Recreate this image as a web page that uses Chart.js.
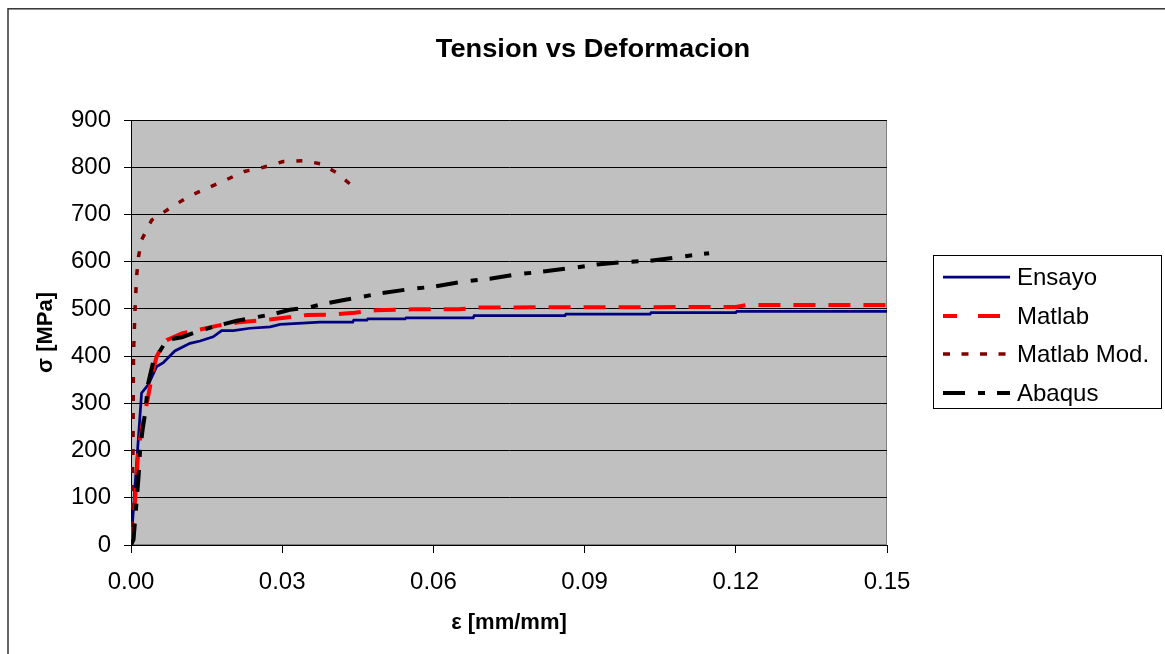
<!DOCTYPE html>
<html>
<head>
<meta charset="utf-8">
<title>Tension vs Deformacion</title>
<script src="https://cdn.jsdelivr.net/npm/chart.js@4/dist/chart.umd.min.js"></script>
<style>
  html, body { margin: 0; padding: 0; background: #fff; }
  #wrap { width: 1165px; height: 654px; position: relative; }
</style>
</head>
<body>
<div id="wrap"><canvas id="chart" width="1165" height="654"></canvas></div>
<script>
// Strain (mm/mm) / stress (MPa) pairs for each curve
const ensayoStrain = [0, 0.0007, 0.0021, 0.0034, 0.0051, 0.0064, 0.0087, 0.0117, 0.0137, 0.0163, 0.0180, 0.0203, 0.0236, 0.0276, 0.0296, 0.0375, 0.0440, 0.0442, 0.0468, 0.0470, 0.0544, 0.0546, 0.0679, 0.0681, 0.0861, 0.0863, 0.1030, 0.1032, 0.1200, 0.1202, 0.1500];
const ensayoStress = [0, 110, 322, 339, 378, 386, 411, 427, 432, 441, 454, 454, 459, 462, 467, 472, 472, 476, 476, 479, 479, 481, 481, 486, 486, 489, 489, 492, 492, 495, 495];

const matlabStrain = [0, 0.0005, 0.0015, 0.0028, 0.0034, 0.0044, 0.0051, 0.0061, 0.0071, 0.0101, 0.0140, 0.0170, 0.0210, 0.0279, 0.0349, 0.0400, 0.0444, 0.0487, 0.0557, 0.0650, 0.0690, 0.1200, 0.1220, 0.1500];
const matlabStress = [0, 46, 208, 282, 314, 371, 399, 420, 434, 448, 457, 464, 471, 478, 487, 488, 492, 497, 499, 499, 503, 504, 508, 508];

const matlabModStrain = [0, 0.0004, 0.0005, 0.0008, 0.0011, 0.0015, 0.0021, 0.0041, 0.0077, 0.0114, 0.0150, 0.0188, 0.0225, 0.0263, 0.0302, 0.0341, 0.0378, 0.0408, 0.0444];
const matlabModStress = [0, 200, 406, 498, 568, 611, 646, 688, 713, 738, 755, 773, 791, 800, 812, 814, 807, 788, 756];

const abaqusStrain = [0, 0.0005, 0.0015, 0.0018, 0.0023, 0.0028, 0.0034, 0.0044, 0.0071, 0.0101, 0.0140, 0.0170, 0.0210, 0.0246, 0.0282, 0.0315, 0.0352, 0.0388, 0.0428, 0.0461, 0.0494, 0.0554, 0.0600, 0.0660, 0.0712, 0.0765, 0.0818, 0.0884, 0.0924, 0.0977, 0.1030, 0.1089, 0.1147];
const abaqusStress = [0, 11, 145, 201, 244, 279, 342, 388, 434, 440, 455, 464, 475, 482, 489, 498, 503, 512, 520, 526, 533, 542, 547, 558, 564, 573, 579, 588, 594, 599, 602, 610, 618];

const seriesNames = ['Ensayo', 'Matlab', 'Matlab Mod.', 'Abaqus'];
const xTicks = [0, 0.03, 0.06, 0.09, 0.12, 0.15];
const yTicks = [0, 100, 200, 300, 400, 500, 600, 700, 800, 900];

const FONT = "'Liberation Sans', Arial, Helvetica, sans-serif";
Chart.defaults.font.family = FONT;
Chart.defaults.color = '#000';

function pairs(xs, ys) {
  return xs.map((x, i) => ({ x: x, y: ys[i] }));
}

// Background, frame, title and boxed legend
const framePlugin = {
  id: 'frame',
  beforeDraw(chart) {
    const ctx = chart.ctx;
    const a = chart.chartArea;
    ctx.save();
    ctx.fillStyle = '#ffffff';
    ctx.fillRect(0, 0, chart.width, chart.height);
    ctx.strokeStyle = '#333333';
    ctx.lineWidth = 1.5;
    ctx.strokeRect(8, 8.8, chart.width + 20, chart.height + 20);
    ctx.fillStyle = '#c0c0c0';
    ctx.fillRect(a.left, a.top, a.right - a.left, a.bottom - a.top);
    ctx.strokeStyle = '#808080';
    ctx.lineWidth = 1;
    ctx.strokeRect(a.left + 0.5, a.top + 0.5, a.right - a.left - 1, a.bottom - a.top - 1);
    // title, slightly widened
    ctx.fillStyle = '#000';
    ctx.font = 'bold 25px ' + FONT;
    ctx.textAlign = 'center';
    ctx.textBaseline = 'alphabetic';
    ctx.translate(593, 57);
    ctx.scale(1.09, 1);
    ctx.fillText('Tension vs Deformacion', 0, 0);
    ctx.restore();
  },
  afterDraw(chart) {
    const ctx = chart.ctx;
    const box = { x: 933, y: 255, w: 228, h: 153 };
    const rows = [277, 316, 354, 393];
    ctx.save();
    ctx.fillStyle = '#ffffff';
    ctx.fillRect(box.x, box.y, box.w, box.h);
    ctx.strokeStyle = '#000';
    ctx.lineWidth = 1;
    ctx.strokeRect(box.x + 0.5, box.y + 0.5, box.w, box.h);
    chart.data.datasets.forEach((ds, i) => {
      const y = rows[i];
      ctx.save();
      ctx.strokeStyle = ds.borderColor;
      ctx.lineWidth = ds.borderWidth;
      ctx.setLineDash(ds.legendDash || ds.borderDash || []);
      ctx.lineCap = 'butt';
      ctx.beginPath();
      ctx.moveTo(943, y);
      ctx.lineTo(1010, y);
      ctx.stroke();
      ctx.restore();
      ctx.fillStyle = '#000';
      ctx.font = '24px ' + FONT;
      ctx.textAlign = 'left';
      ctx.textBaseline = 'middle';
      ctx.fillText(ds.label, 1017, y + 1);
    });
    ctx.restore();
  }
};

const chart = new Chart(document.getElementById('chart'), {
  type: 'line',
  data: {
    datasets: [
      {
        label: seriesNames[0],
        data: pairs(ensayoStrain, ensayoStress),
        borderColor: '#000080',
        borderWidth: 2.75,
        order: 3
      },
      {
        label: seriesNames[1],
        data: pairs(matlabStrain, matlabStress),
        borderColor: '#ff0000',
        borderWidth: 4,
        borderDash: [22, 13],
        legendDash: [14, 21, 22, 13],
        order: 2
      },
      {
        label: seriesNames[2],
        data: pairs(matlabModStrain, matlabModStress),
        borderColor: '#800000',
        borderWidth: 3.5,
        borderDash: [6, 12],
        legendDash: [7, 11.5],
        order: 1
      },
      {
        label: seriesNames[3],
        data: pairs(abaqusStrain, abaqusStress),
        borderColor: '#000000',
        borderWidth: 4,
        borderDash: [22, 13, 7, 12],
        legendDash: [22, 13, 7, 12],
        order: 0
      }
    ]
  },
  options: {
    responsive: false,
    animation: false,
    devicePixelRatio: 1,
    parsing: true,
    elements: {
      point: { radius: 0, hoverRadius: 0 },
      line: { tension: 0, fill: false, borderCapStyle: 'butt', borderJoinStyle: 'miter' }
    },
    layout: { padding: { left: 0, top: 120, right: 278, bottom: 0 } },
    plugins: {
      legend: { display: false },
      title: { display: false },
      tooltip: { enabled: false }
    },
    scales: {
      x: {
        type: 'linear',
        min: 0,
        max: 0.15,
        afterBuildTicks(scale) { scale.ticks = xTicks.map(v => ({ value: v })); },
        afterFit(scale) { scale.height = 109; },
        ticks: {
          font: { size: 24 },
          padding: 15,
          maxRotation: 0,
          autoSkip: false,
          callback: v => Number(v).toFixed(2)
        },
        grid: { drawOnChartArea: false, drawTicks: true, tickLength: 8, color: '#000', lineWidth: 1 },
        border: { display: true, color: '#000', width: 1 },
        title: {
          display: true,
          text: 'ε [mm/mm]',
          font: { size: 22, weight: 'bold' },
          padding: { top: 0, bottom: 18 }
        }
      },
      y: {
        type: 'linear',
        min: 0,
        max: 900,
        afterBuildTicks(scale) { scale.ticks = yTicks.map(v => ({ value: v })); },
        afterFit(scale) { scale.width = 131; },
        ticks: { font: { size: 24 }, padding: 13, autoSkip: false },
        grid: { drawOnChartArea: true, drawTicks: true, tickLength: 7, color: '#000', lineWidth: 1 },
        border: { display: true, color: '#000', width: 1 },
        title: {
          display: true,
          text: 'σ [MPa]',
          font: { size: 22, weight: 'bold' },
          padding: { top: 33, bottom: 0 }
        }
      }
    }
  },
  plugins: [framePlugin]
});
</script>
</body>
</html>
